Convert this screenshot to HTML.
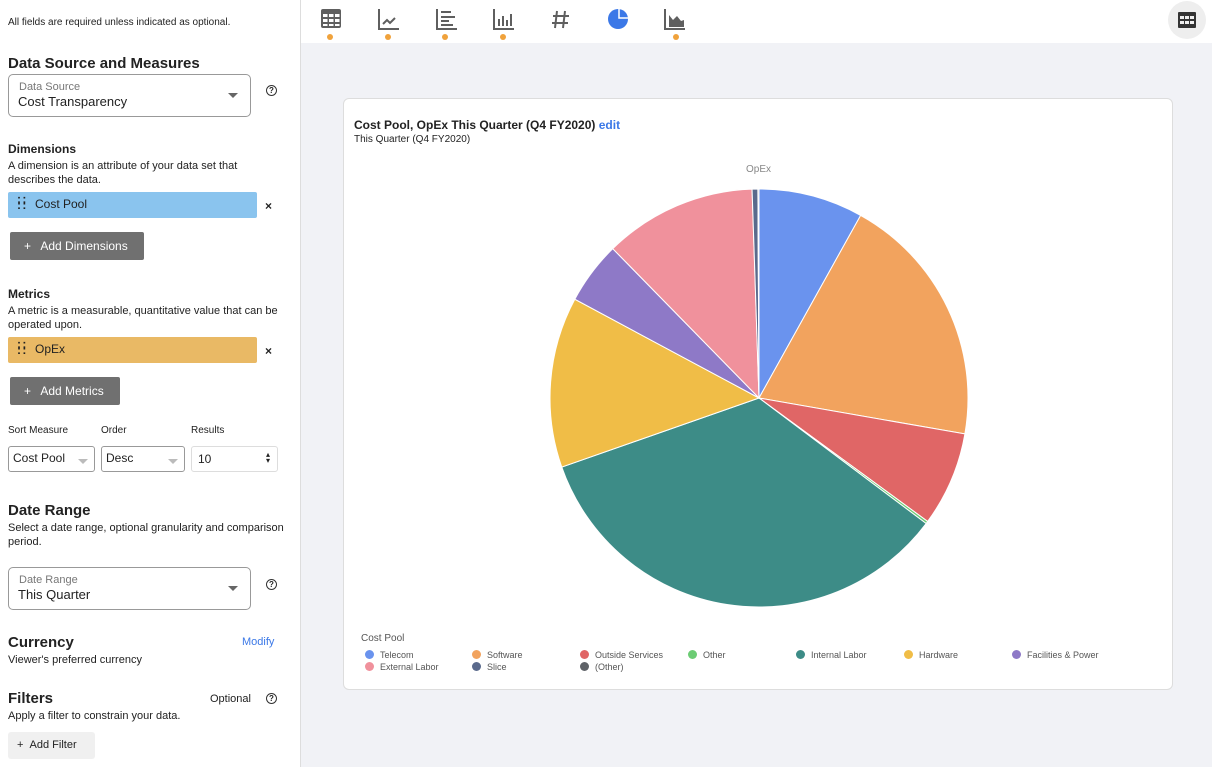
<!DOCTYPE html>
<html><head><meta charset="utf-8"><style>
*{box-sizing:border-box;margin:0;padding:0}
body{width:1212px;height:767px;overflow:hidden;font-family:"Liberation Sans",sans-serif;color:#222;background:#f1f2f6;position:relative}
.a{position:absolute;white-space:nowrap}
#left{position:absolute;left:0;top:0;width:301px;height:767px;background:#fff;border-right:1px solid #ddd}
#top{position:absolute;left:301px;top:0;width:911px;height:43px;background:#fff}
.h{font-size:15px;font-weight:bold;color:#222}
.s{font-size:11px;color:#222}
.b{font-size:12px;font-weight:bold}
.box{position:absolute;border:1px solid #999;border-radius:5px;background:#fff}
.caret{position:absolute;width:0;height:0;border-left:5px solid transparent;border-right:5px solid transparent;border-top:5px solid #666}
.q{position:absolute;width:11px;height:11px;border:1.3px solid #333;border-radius:50%;font-size:8px;text-align:center;line-height:9px;font-weight:bold}
.btn{position:absolute;background:#707070;color:#fff;font-size:12px;border-radius:2px;padding-left:14px;line-height:28px}
.dot{position:absolute;width:6px;height:6px;border-radius:50%;background:#f0a23b}
#card{position:absolute;left:343px;top:98px;width:830px;height:592px;background:#fff;border:1px solid #ddd;border-radius:6px}
.lg{position:absolute;font-size:9px;color:#555}
.lg i{position:absolute;left:-15px;top:0;width:9px;height:9px;border-radius:50%}
</style></head><body>
<div id="left">
<div class="a s" style="left:8px;top:17px;font-size:10px">All fields are required unless indicated as optional.</div>
<div class="a h" style="left:8px;top:55px">Data Source and Measures</div>
<div class="box" style="left:8px;top:74px;width:243px;height:43px"></div>
<div class="a" style="left:19px;top:81px;font-size:11px;color:#777">Data Source</div>
<div class="a" style="left:18px;top:94px;font-size:13px">Cost Transparency</div>
<div class="caret" style="left:228px;top:93px"></div>
<div class="q" style="left:266px;top:85px">?</div>
<div class="a b" style="left:8px;top:142px">Dimensions</div>
<div class="a s" style="left:8px;top:160px">A dimension is an attribute of your data set that</div>
<div class="a s" style="left:8px;top:174px">describes the data.</div>
<div class="a" style="left:8px;top:192px;width:249px;height:26px;background:#8ac4ee;border-radius:2px"></div>
<div class="a" style="left:17px;top:196px;font-size:12px;letter-spacing:-1px;line-height:6px;font-weight:bold">: :<br>: :</div>
<div class="a" style="left:35px;top:197px;font-size:12px">Cost Pool</div>
<div class="a" style="left:265px;top:199px;font-size:12px;font-weight:bold">×</div>
<div class="btn" style="left:10px;top:232px;width:134px">+&nbsp;&nbsp; Add Dimensions</div>
<div class="a b" style="left:8px;top:287px">Metrics</div>
<div class="a s" style="left:8px;top:305px">A metric is a measurable, quantitative value that can be</div>
<div class="a s" style="left:8px;top:319px">operated upon.</div>
<div class="a" style="left:8px;top:337px;width:249px;height:26px;background:#e9b965;border-radius:2px"></div>
<div class="a" style="left:17px;top:341px;font-size:12px;letter-spacing:-1px;line-height:6px;font-weight:bold">: :<br>: :</div>
<div class="a" style="left:35px;top:342px;font-size:12px">OpEx</div>
<div class="a" style="left:265px;top:344px;font-size:12px;font-weight:bold">×</div>
<div class="btn" style="left:10px;top:377px;width:110px">+&nbsp;&nbsp; Add Metrics</div>
<div class="a" style="left:8px;top:425px;font-size:10px">Sort Measure</div>
<div class="a" style="left:101px;top:425px;font-size:10px">Order</div>
<div class="a" style="left:191px;top:425px;font-size:10px">Results</div>
<div class="box" style="left:8px;top:446px;width:87px;height:26px;border-radius:3px"></div>
<div class="a" style="left:13px;top:451px;font-size:12px">Cost Pool</div>
<div class="caret" style="left:78px;top:459px;border-top-color:#bbb"></div>
<div class="box" style="left:101px;top:446px;width:84px;height:26px;border-radius:3px"></div>
<div class="a" style="left:106px;top:451px;font-size:12px">Desc</div>
<div class="caret" style="left:168px;top:459px;border-top-color:#bbb"></div>
<div class="box" style="left:191px;top:446px;width:87px;height:26px;border-color:#ddd;border-radius:3px"></div>
<div class="a" style="left:198px;top:452px;font-size:12px">10</div>
<div class="a" style="left:266px;top:452px;font-size:8px;line-height:6px">▴<br>▾</div>
<div class="a h" style="left:8px;top:502px">Date Range</div>
<div class="a s" style="left:8px;top:522px">Select a date range, optional granularity and comparison</div>
<div class="a s" style="left:8px;top:536px">period.</div>
<div class="box" style="left:8px;top:567px;width:243px;height:43px"></div>
<div class="a" style="left:19px;top:574px;font-size:11px;color:#777">Date Range</div>
<div class="a" style="left:18px;top:587px;font-size:13px">This Quarter</div>
<div class="caret" style="left:228px;top:586px"></div>
<div class="q" style="left:266px;top:579px">?</div>
<div class="a h" style="left:8px;top:634px">Currency</div>
<div class="a" style="left:242px;top:636px;font-size:11px;color:#3b78e7">Modify</div>
<div class="a s" style="left:8px;top:654px">Viewer's preferred currency</div>
<div class="a h" style="left:8px;top:690px">Filters</div>
<div class="a" style="left:210px;top:693px;font-size:11px">Optional</div>
<div class="q" style="left:266px;top:693px">?</div>
<div class="a s" style="left:8px;top:710px">Apply a filter to constrain your data.</div>
<div class="a" style="left:8px;top:732px;width:87px;height:27px;background:#f0f0f0;border-radius:3px;font-size:11px;line-height:27px;padding-left:9px">+&nbsp;&nbsp;Add Filter</div>
</div>
<div id="top">
<svg width="911" height="43" style="position:absolute;left:0;top:0">
<g fill="#5f5f5f">
<rect x="20" y="9" width="20" height="19" rx="2"/>
</g>
<g fill="#fff"><rect x="22" y="14" width="4.5" height="3"/><rect x="28" y="14" width="4.5" height="3"/><rect x="34" y="14" width="4.5" height="3"/><rect x="22" y="19" width="4.5" height="3"/><rect x="28" y="19" width="4.5" height="3"/><rect x="34" y="19" width="4.5" height="3"/><rect x="22" y="24" width="4.5" height="2"/><rect x="28" y="24" width="4.5" height="2"/><rect x="34" y="24" width="4.5" height="2"/></g>
<g stroke="#5f5f5f" stroke-width="2" fill="none">
<path d="M78 9V29H98"/><path d="M82 24l4-4 3 3 5-5"/>
<path d="M136 9V29H156"/><path d="M140 12h10M140 17h14M140 21h8M140 25h12"/>
<path d="M193 9V29H213"/><path d="M198 26v-7M202 26v-10M206 26v-6M210 26v-12"/>
<path d="M256 11l-2 17M264 11l-2 17M252 16h16M251 23h16"/>
<path d="M364 9V29H384"/>
</g>
<path d="M368 27V15l4 5 4-4 4 5 3-1v7z" fill="#5f5f5f"/>
<circle cx="317" cy="19" r="10" fill="#3b78e7"/><path d="M318 9V18h9.5" fill="none" stroke="#fff" stroke-width="1.5"/>
<circle cx="886" cy="20" r="19" fill="#eee"/>
<rect x="877" y="12" width="18" height="16" rx="1" fill="#333"/>
<g fill="#eee"><rect x="879" y="16" width="4" height="3"/><rect x="884" y="16" width="4" height="3"/><rect x="889" y="16" width="4" height="3"/><rect x="879" y="21" width="4" height="3"/><rect x="884" y="21" width="4" height="3"/><rect x="889" y="21" width="4" height="3"/></g>
</svg>
<div class="dot" style="left:26px;top:34px"></div><div class="dot" style="left:84px;top:34px"></div><div class="dot" style="left:141px;top:34px"></div><div class="dot" style="left:199px;top:34px"></div><div class="dot" style="left:372px;top:34px"></div>
</div>
<div id="card">
<div class="a" style="left:10px;top:19px;font-size:12px;font-weight:bold">Cost Pool, OpEx This Quarter (Q4 FY2020) <span style="color:#3b78e7">edit</span></div>
<div class="a" style="left:10px;top:35px;font-size:10px">This Quarter (Q4 FY2020)</div>
<div class="a" style="left:402px;top:65px;font-size:10px;color:#888">OpEx</div>
<svg id="pie" width="830" height="592" style="position:absolute;left:0;top:0"></svg>
<div class="a" style="left:17px;top:534px;font-size:10px;color:#555">Cost Pool</div>
<div class="lg" style="left:36px;top:551px"><i style="background:#6a93ee"></i>Telecom</div>
<div class="lg" style="left:143px;top:551px"><i style="background:#f2a35e"></i>Software</div>
<div class="lg" style="left:251px;top:551px"><i style="background:#e06666"></i>Outside Services</div>
<div class="lg" style="left:359px;top:551px"><i style="background:#6ccc74"></i>Other</div>
<div class="lg" style="left:467px;top:551px"><i style="background:#3d8c87"></i>Internal Labor</div>
<div class="lg" style="left:575px;top:551px"><i style="background:#f0bd47"></i>Hardware</div>
<div class="lg" style="left:683px;top:551px"><i style="background:#8e79c7"></i>Facilities &amp; Power</div>
<div class="lg" style="left:36px;top:563px"><i style="background:#f0919c"></i>External Labor</div>
<div class="lg" style="left:143px;top:563px"><i style="background:#5a6a8c"></i>Slice</div>
<div class="lg" style="left:251px;top:563px"><i style="background:#5f6368"></i>(Other)</div>
</div>
<script>
var s=[[0,29.1,"#6a93ee"],[29.1,99.9,"#f2a35e"],[99.9,126.2,"#e06666"],[126.2,126.9,"#6ccc74"],[126.9,250.7,"#3d8c87"],[250.7,298.2,"#f0bd47"],[298.2,315.6,"#8e79c7"],[315.6,358.1,"#f0919c"],[358.1,359.7,"#5a6a8c"],[359.7,360,"#5f6368"]];
var cx=415,cy=299,r=209,h="";
function p(a){a=a*Math.PI/180;return (cx+r*Math.sin(a)).toFixed(2)+" "+(cy-r*Math.cos(a)).toFixed(2)}
s.forEach(function(t){h+='<path d="M'+cx+' '+cy+'L'+p(t[0])+'A'+r+' '+r+' 0 '+(t[1]-t[0]>180?1:0)+' 1 '+p(t[1])+'Z" fill="'+t[2]+'" stroke="#fff" stroke-width="1"/>'});
document.getElementById("pie").innerHTML=h;
</script>
</body></html>
